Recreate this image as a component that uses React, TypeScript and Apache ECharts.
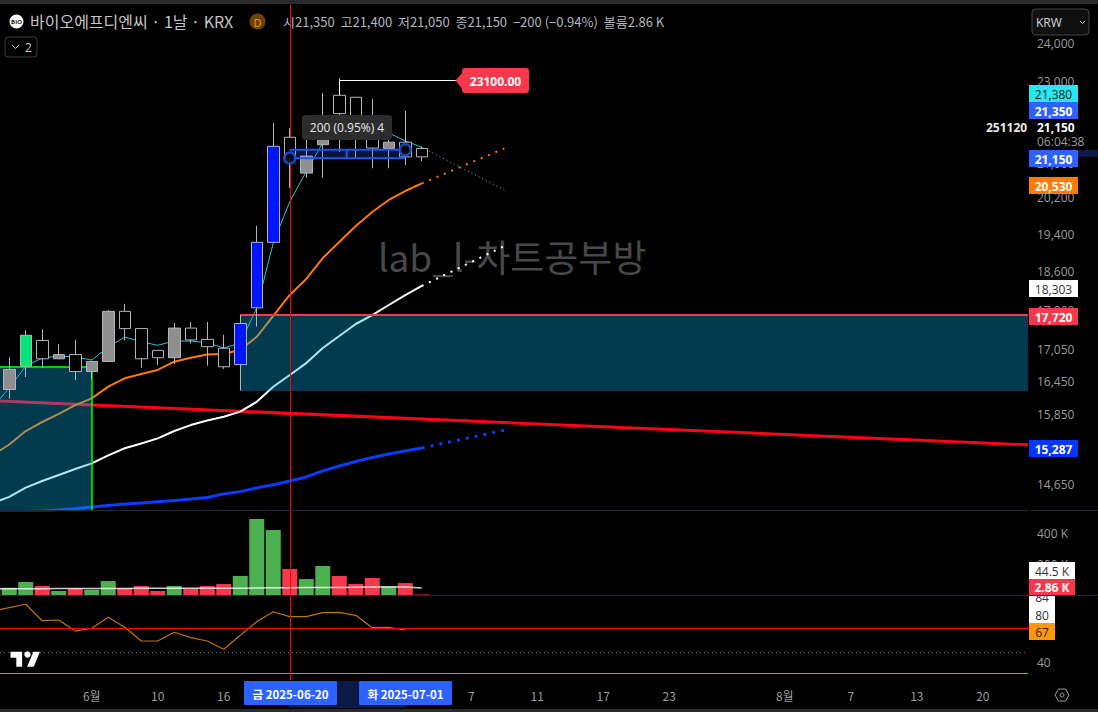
import React, { useEffect, useRef } from "react";
import * as echarts from "echarts";

const FONT = '"Open Sans","Noto Sans CJK KR",sans-serif';
const KR = '"Noto Sans CJK KR","Open Sans",sans-serif';

// candles: index 0..25
const opens = [16670,16730,16870,16950,16630,16820,17790,17450,16870,16890,17460,17230,17100,16720,16760,17860,19220,21120,21170,21650,22200,21680,21360,21500,21150,21350];
const closes = [16300,17320,17220,16870,16950,16630,16820,17790,17450,17030,16890,17460,17240,17070,17550,19220,21400,21620,20770,21440,22660,22610,21840,21350,21500,21150];
const lows = [16130,16530,16700,16870,16470,16490,16820,17220,16700,16750,16770,17160,16740,16680,16280,17490,19220,20430,20660,20660,21270,21100,20880,20880,20960,21050];
const highs = [16900,17420,17440,17150,17230,16830,17820,17940,17460,17030,17560,17580,17580,17330,17720,19580,21970,21840,21920,22720,23100,22610,22570,21920,22270,21400];
const candleFill = ["g","n","h","g","h","g","g","h","h","h","g","h","h","h","b","b","b","h","g","g","h","h","h","g","h","h"];

// series start at index -1 (just left of the visible range)
const ma5 = [15980,16330,16730,16884,16922,16903,16846,17094,17286,17195,17126,17209,17209,17176,17075,17171,17857,19206,20115,20804,21484,21800,21995,21920,21725,21530,21380];
const ma20 = [15147,15326,15558,15717,15859,16018,16138,16351,16505,16584,16660,16815,16890,16950,16960,17040,17290,17700,18120,18447,18885,19228,19575,19885,20153,20357,20530];
const ma60 = [14354,14452,14603,14712,14812,14912,15006,15140,15261,15343,15432,15560,15663,15744,15811,15900,16077,16350,16566,16789,17075,17305,17540,17717,17917,18117,18303];
const ma120 = [14194,14210,14218,14226,14242,14263,14290,14314,14338,14354,14375,14395,14419,14444,14501,14538,14599,14649,14712,14779,14879,14962,15037,15105,15164,15215,15266];
const ma5Next = 20380;
const ma20Next = 21350;
const ma60Next = 19140;
const ma120Next = 15574;
const trendLine = [16090, 15320];

const volumes = [47000,47000,84000,58000,26000,43000,34000,90000,45000,58000,26000,58000,39000,58000,71000,123000,490000,419000,168000,103000,187000,123000,71000,110000,56000,77000,2860];
const volumeUp = [0,1,1,0,1,0,1,1,0,0,0,1,0,0,0,1,1,1,0,1,1,0,0,0,1,0,0];
const volumeMa = [41000,41000,41000,41000,42000,42000,42000,42000,42000,43000,43000,43000,43000,44000,44000,44000,45000,46000,47000,48000,48000,49000,50000,51000,51000,52000,44500];
const rsi = [82.5,85.3,88.1,74.4,75,65.8,68.1,77.3,68.9,57.5,57.5,64.8,60.3,57.5,50.6,62.3,73.6,81.9,77.8,77.8,81.1,81.4,78.9,68.6,68.9,66.8];

const priceTicks = [24000,23000,21000,20200,19400,18600,17800,17050,16450,15850,14650];
const volumeTicks = [200000,400000];
const rsiTicks = [40];
const timeTickIndex = [5,9,13,28,32,36,40,47,51,55,59];
const timeTickText = ["6월","10","16","7","11","17","23","8월","7","13","20"];

const zoneA = { left: -0.56, right: 5, top: 16725, bottom: 14242 };
const zoneB = { left: 14, right: 61.74, top: 17720, bottom: 16272 };
const crossIndex = 17;
const measureTop = 21320;
const measureBottom = 21120;
const measureFrom = 17;
const measureTo = 24;
const rsiLevels = { red: 68, dots: 48.3, green: 30.5 };

const X_MIN = -0.5606;
const X_MAX = 61.74;

const tags = [
  { t: "84", y: 596, h: 10, tc: 597.8, w: 26, bg: "#ffffff", fg: "#333", bold: false },
  { t: "21,380", y: 85, h: 17, w: 49, bg: "#26e6f2", fg: "#222", bold: false },
  { t: "21,350", y: 102, h: 17, w: 49, bg: "#2d62ff", fg: "#fff", bold: true },
  { t: "21,150", y: 150, h: 17, w: 49, bg: "#2d62ff", fg: "#fff", bold: true },
  { t: "20,530", y: 177, h: 17, w: 49, bg: "#ff7a00", fg: "#fff", bold: true },
  { t: "18,303", y: 280, h: 17, w: 49, bg: "#ffffff", fg: "#333", bold: false },
  { t: "17,720", y: 308, h: 17, w: 49, bg: "#f7374c", fg: "#fff", bold: true },
  { t: "15,287", y: 440, h: 17, w: 49, bg: "#0036ff", fg: "#fff", bold: true },
  { t: "44.5 K", y: 562, h: 17, w: 46, bg: "#ffffff", fg: "#333", bold: false },
  { t: "2.86 K", y: 579, h: 16, w: 46, bg: "#f7374c", fg: "#fff", bold: true },
  { t: "80", y: 606, h: 17, w: 26, bg: "#ffffff", fg: "#333", bold: false },
  { t: "67", y: 623, h: 17, w: 26, bg: "#ff9800", fg: "#222", bold: false },
];

const txt = (text: string, x: number, y: number, fontSize: number, fill: string, opts: any = {}) => ({
  type: "text",
  x,
  y,
  z: opts.z ?? 100,
  silent: true,
  style: {
    text,
    fontSize,
    fill,
    fontFamily: opts.font ?? FONT,
    fontWeight: opts.bold ? "bold" : "normal",
    align: opts.align ?? "left",
    verticalAlign: "middle",
  },
});
const box = (x: number, y: number, width: number, height: number, fill: string, opts: any = {}) => ({
  type: "rect",
  z: opts.z ?? 99,
  silent: true,
  shape: { x, y, width, height, r: opts.r ?? 0 },
  style: { fill, stroke: opts.stroke, lineWidth: opts.stroke ? 1 : 0 },
});

const hollowItem = (kind: string) => {
  const fill = kind === "g" ? "#8f8f8f" : kind === "n" ? "#00e676" : kind === "b" ? "#0016ff" : "#000000";
  return { color: fill, color0: fill, borderColor: "#b2b5be", borderColor0: "#b2b5be", borderWidth: 1 };
};

const lineOf = (values: number[], color: string, width: number, xAxisIndex = 0) => ({
  type: "line",
  xAxisIndex,
  yAxisIndex: xAxisIndex,
  z: 1,
  symbol: "none",
  silent: true,
  lineStyle: { color, width },
  data: values.map((v, i) => [i - 1, v]),
});
const projection = (from: number, to: number, color: string, width: number, dash: number[]) => ({
  type: "line",
  z: 1,
  symbol: "none",
  silent: true,
  lineStyle: { color, width, type: dash },
  data: [[25, from], [30, to]],
});
const crossLine = (host: any) => ({
  ...host,
  markLine: {
    silent: true,
    symbol: "none",
    animation: false,
    z: 3,
    label: { show: false },
    data: [...((host.markLine && host.markLine.data) || []), { xAxis: crossIndex, lineStyle: { color: "#ff0000", width: 1, type: "solid" } }],
  },
});

export default function App() {
  const ref = useRef<HTMLDivElement>(null);
  useEffect(() => {
    document.body.style.margin = "0";
    document.body.style.background = "#000";
    echarts.graphic.registerShape(
      "tvlogo",
      echarts.graphic.extendPath("M14 22H7V11H0V4h14v18zM28 22h-8l7.5-18h8L28 22z", {})
    );
    const chart = echarts.init(ref.current!, undefined, { renderer: "svg" });

    const xBase = (gridIndex: number) => ({
      type: "value",
      gridIndex,
      min: X_MIN,
      max: X_MAX,
      axisLine: { show: false },
      axisTick: { show: false },
      splitLine: { show: false },
      axisLabel: { show: false },
    });
    const yLabel = {
      show: true,
      color: "#9b9b9b",
      fontSize: 12,
      fontFamily: FONT,
      margin: 9,
      align: "left" as const,
    };

    const tagEls = tags.flatMap((g: any) => [
      box(1029, g.y, g.w, g.h, g.bg),
      txt(g.t, 1029 + g.w / 2, g.tc ?? g.y + g.h / 2 + 0.5, 12, g.fg, { align: "center", bold: g.bold, z: 99 }),
    ]);

    const option: any = {
      animation: false,
      backgroundColor: "#000000",
      grid: [
        { left: 0, top: 0, width: 1028, height: 510 },
        { left: 0, top: 511, width: 1028, height: 84 },
        { left: 0, top: 596, width: 1028, height: 84 },
      ],
      xAxis: [
        xBase(0),
        xBase(1),
        {
          ...xBase(2),
          axisLabel: {
            show: true,
            color: "#9b9b9b",
            fontSize: 12,
            fontFamily: KR,
            margin: 9,
            customValues: timeTickIndex,
            formatter: (v: number) => timeTickText[timeTickIndex.indexOf(Math.round(v))] ?? "",
          },
        },
      ],
      yAxis: [
        {
          type: "log",
          gridIndex: 0,
          position: "right",
          min: 14242,
          max: 25212,
          axisLine: { show: false },
          axisTick: { show: false },
          splitLine: { show: false },
          minorSplitLine: { show: false },
          axisLabel: {
            ...yLabel,
            customValues: priceTicks,
            formatter: (v: number) => Math.round(v).toLocaleString("en-US"),
          },
        },
        {
          type: "value",
          gridIndex: 1,
          position: "right",
          min: 0,
          max: 542000,
          axisLine: { show: false },
          axisTick: { show: false },
          splitLine: { show: false },
          axisLabel: { ...yLabel, customValues: volumeTicks, formatter: (v: number) => `${v / 1000} K` },
        },
        {
          type: "value",
          gridIndex: 2,
          position: "right",
          min: 25,
          max: 95,
          axisLine: { show: false },
          axisTick: { show: false },
          splitLine: { show: false },
          axisLabel: { ...yLabel, customValues: rsiTicks },
        },
      ],
      series: [
        { ...lineOf([trendLine[0], trendLine[1]], "#ff0018", 3), data: [[X_MIN, trendLine[0]], [X_MAX, trendLine[1]]] },
        lineOf(ma120, "#0a3cff", 3),
        projection(ma120[ma120.length - 1], ma120Next, "#0a3cff", 3, [3, 6]),
        lineOf(ma60, "#ffffff", 2),
        projection(ma60[ma60.length - 1], ma60Next, "#ffffff", 2, [2, 6]),
        lineOf(ma20, "#ff7a00", 2),
        projection(ma20[ma20.length - 1], ma20Next, "#ff7a00", 2, [2, 6]),
        lineOf(ma5, "#25c4d4", 1),
        projection(ma5[ma5.length - 1], ma5Next, "#25c4d4", 1, [1, 3]),
        {
          type: "line",
          z: 1,
          symbol: "none",
          silent: true,
          lineStyle: { opacity: 0 },
          data: [[0, 20000]],
          markArea: {
            silent: true,
            z: 2,
            itemStyle: { color: "rgba(8,176,240,0.33)" },
            data: [
              [{ xAxis: zoneA.left, yAxis: zoneA.top }, { xAxis: zoneA.right, yAxis: zoneA.bottom }],
              [{ xAxis: zoneB.left, yAxis: zoneB.top }, { xAxis: zoneB.right, yAxis: zoneB.bottom }],
            ],
          },
          markLine: {
            silent: true,
            symbol: "none",
            animation: false,
            z: 3,
            label: { show: false },
            data: [
              [
                { coord: [zoneB.left, zoneB.top], lineStyle: { color: "#f7374c", width: 2, type: "solid" } },
                { coord: [zoneB.right, zoneB.top] },
              ],
              [
                { coord: [zoneA.left, zoneA.top], lineStyle: { color: "#00ff00", width: 1.5, type: "solid" } },
                { coord: [zoneA.right, zoneA.top] },
              ],
              [
                { coord: [zoneA.right, zoneA.top], lineStyle: { color: "#00ff00", width: 1.5, type: "solid" } },
                { coord: [zoneA.right, zoneA.bottom] },
              ],
              { xAxis: crossIndex, lineStyle: { color: "#ff0000", width: 1, type: "solid" } },
            ],
          },
        },
        {
          type: "candlestick",
          z: 4,
          barWidth: 12,
          silent: true,
          encode: { x: 0, y: [1, 2, 3, 4] },
          data: opens.map((o, i) => ({
            value: [i, o, closes[i], lows[i], highs[i]],
            itemStyle: hollowItem(candleFill[i]),
          })),
        },
        {
          type: "line",
          z: 5,
          symbol: "none",
          silent: true,
          lineStyle: { color: "#000", width: 1, type: [1, 2] },
          data: [[15.71, 21124], [16.32, 21124]],
        },
        {
          type: "line",
          z: 6,
          symbol: "none",
          silent: true,
          lineStyle: { color: "#1f56e8", width: 2 },
          data: [[measureFrom, measureTop], [measureTo, measureTop]],
          markArea: {
            silent: true,
            z: 6,
            itemStyle: { color: "rgba(41,98,255,0.22)" },
            data: [[{ xAxis: measureFrom, yAxis: measureTop }, { xAxis: measureTo, yAxis: measureBottom }]],
          },
        },
        {
          type: "line",
          z: 6,
          symbol: "none",
          silent: true,
          lineStyle: { color: "#1f56e8", width: 2 },
          data: [[measureFrom, measureBottom], [measureTo, measureBottom]],
        },
        {
          type: "line",
          z: 6,
          symbol: "none",
          silent: true,
          lineStyle: { color: "#1f56e8", width: 2 },
          data: [[(measureFrom + measureTo) / 2 - 0.05, measureTop], [(measureFrom + measureTo) / 2 - 0.05, measureBottom]],
        },
        {
          type: "scatter",
          z: 7,
          silent: true,
          symbolSize: 11,
          itemStyle: { color: "#000", borderColor: "#1f56e8", borderWidth: 2.5 },
          data: [[measureFrom, measureBottom], [measureTo, measureTop]],
        },
        crossLine({
          type: "bar",
          xAxisIndex: 1,
          yAxisIndex: 1,
          barWidth: 15,
          silent: true,
          z: 1,
          data: volumes.map((v, i) => ({
            value: [i - 1, v],
            itemStyle: { color: volumeUp[i] ? "#4caf50" : "#f7374c" },
          })),
        }),
        { ...lineOf(volumeMa, "rgba(255,255,255,0.8)", 1.5, 1), z: 2 },
        crossLine({
          ...lineOf(rsi, "#bf7300", 1.2, 2),
          markLine: {
            data: [
              { yAxis: rsiLevels.red, lineStyle: { color: "#ff0000", width: 1.2, type: "solid" } },
              { yAxis: rsiLevels.dots, lineStyle: { color: "#707070", width: 1, type: [1, 3] } },
              { yAxis: rsiLevels.green, lineStyle: { color: "#19e619", width: 1, type: "solid" } },
            ],
          },
        }),
      ],
      graphic: [
        {
          elements: [
            txt("lab_l-차트공부방", 378, 256, 37, "#484848", { font: KR, z: 0 }),
            // frame
            box(0, 0, 1098, 4, "#2b2b2b"),
            box(0, 709, 1098, 3, "#2b2b2b"),
            box(0, 510, 1028, 1, "#262a36"),
            box(0, 595, 1098, 1, "#262a36"),
            box(1030, 510, 68, 1, "#262a36"),
            // header
            { type: "circle", z: 99, silent: true, shape: { cx: 16.5, cy: 21.5, r: 7 }, style: { fill: "#ffffff" } },
            txt("BIO", 16.5, 22, 6, "#111", { align: "center", bold: true, z: 101 }),
            txt("바이오에프디엔씨 · 1날 · KRX", 30, 21, 16, "#c4c4c4", { font: KR }),
            { type: "circle", z: 99, silent: true, shape: { cx: 257.5, cy: 21.5, r: 8 }, style: { fill: "#6b4205" } },
            txt("D", 257.5, 22, 11, "#f59a23", { align: "center", z: 101 }),
            txt("시21,350  고21,400  저21,050  종21,150  −200 (−0.94%)  볼륨2.86 K", 283, 21, 13, "#b2b5be", { font: KR }),
            box(5, 37, 32, 20, "#000", { stroke: "#3a3a3a", r: 3 }),
            { type: "polyline", z: 100, silent: true, shape: { points: [[12, 45], [15.5, 48.5], [19, 45]] }, style: { stroke: "#c8c8c8", lineWidth: 1, fill: "none" } },
            txt("2", 25, 47, 12, "#c8c8c8", { z: 101 }),
            // top-right
            box(1032, 9, 57, 26, "#101010", { stroke: "#454545", r: 4 }),
            txt("KRW", 1036, 22, 12, "#d8d8d8"),
            { type: "polyline", z: 100, silent: true, shape: { points: [[1080, 21], [1082.5, 23.5], [1085, 21]] }, style: { stroke: "#c8c8c8", lineWidth: 1, fill: "none" } },
            box(1078, 150, 20, 7, "#0c1b46"),
            txt("251120", 986, 127, 12, "#e8e8e8", { bold: true }),
            txt("21,150", 1037, 127, 12, "#ffffff", { bold: true }),
            txt("06:04:38", 1037, 141, 12, "#9b9b9b"),
            ...tagEls,
            // callout
            { type: "polyline", z: 98, silent: true, shape: { points: [[339.5, 95], [339.5, 80.5], [456, 80.5]] }, style: { stroke: "#ffffff", lineWidth: 1, fill: "none" } },
            { type: "polygon", z: 99, silent: true, shape: { points: [[455.5, 80.5], [463, 72], [463, 90]] }, style: { fill: "#f7374c" } },
            box(462, 68, 67, 25, "#f7374c", { r: 3 }),
            txt("23100.00", 495.5, 81, 12, "#ffffff", { align: "center", bold: true, z: 101 }),
            // measure tooltip
            box(302, 115, 90, 25, "#2c2c2c", { r: 3 }),
            txt("200 (0.95%) 4", 347, 127.5, 12, "#e8e8e8", { align: "center", z: 101 }),
            // time-axis tags
            box(337, 681, 22, 24, "#0c1b46"),
            box(289, 705, 117, 3, "#0c1b46"),
            box(244, 681, 93, 24, "#2d62ff", { r: 1 }),
            txt("금 2025-06-20", 290.5, 694, 11.5, "#ffffff", { align: "center", bold: true, font: KR, z: 101 }),
            box(359, 681, 93, 24, "#2d62ff", { r: 1 }),
            txt("화 2025-07-01", 405.5, 694, 11.5, "#ffffff", { align: "center", bold: true, font: KR, z: 101 }),
            // tv logo
            { type: "tvlogo", x: 10.5, y: 648.5, scaleX: 0.83, scaleY: 0.83, z: 100, silent: true, style: { fill: "#ffffff" } },
            { type: "circle", z: 100, silent: true, shape: { cx: 27.5, cy: 654.5, r: 3.2 }, style: { fill: "#ffffff" } },
            // settings icon
            {
              type: "polygon",
              z: 100,
              silent: true,
              shape: { points: [[1055, 695], [1058.5, 689], [1065.5, 689], [1069, 695], [1065.5, 701], [1058.5, 701]] },
              style: { stroke: "#9b9b9b", lineWidth: 1, fill: "none" },
            },
            { type: "circle", z: 100, silent: true, shape: { cx: 1062, cy: 695, r: 2 }, style: { stroke: "#9b9b9b", lineWidth: 1, fill: "none" } },
          ],
        },
      ],
    };
    chart.setOption(option);
    return () => chart.dispose();
  }, []);
  return <div ref={ref} style={{ position: "fixed", left: 0, top: 0, width: 1098, height: 712, background: "#000" }} />;
}
